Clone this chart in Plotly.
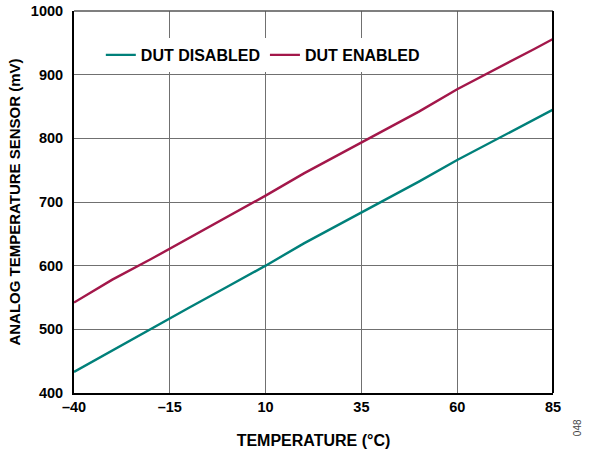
import plotly.graph_objects as go

temps = [-40, -30, -20, -10, 0, 10, 20, 30, 40, 50, 60, 70, 80, 85]
dut_disabled = [433, 467, 500, 534, 567, 600, 635, 667, 700, 732, 766, 798, 829, 845]
dut_enabled = [542, 578, 610, 643, 676, 710, 745, 777, 810, 842, 877, 908, 940, 956]

x_ticks = [-40, -15, 10, 35, 60, 85]
x_ticklabels = ["\u201340", "\u201315", "10", "35", "60", "85"]
y_ticks = [400, 500, 600, 700, 800, 900, 1000]

font_family = "Liberation Sans, Arial, sans-serif"

fig = go.Figure()
fig.add_trace(go.Scatter(x=temps, y=dut_disabled, mode="lines", name="DUT DISABLED",
                         line=dict(color="#00807a", width=2.4)))
fig.add_trace(go.Scatter(x=temps, y=dut_enabled, mode="lines", name="DUT ENABLED",
                         line=dict(color="#a3174a", width=2.4)))

fig.update_layout(
    width=591, height=453,
    margin=dict(l=74, r=38, t=11, b=60),
    paper_bgcolor="white", plot_bgcolor="white",
    font=dict(family=font_family, size=13, color="black"),
    showlegend=True,
    legend=dict(orientation="h", x=0.056, y=0.885, xanchor="left", yanchor="middle",
                bgcolor="white", font=dict(size=16, family=font_family, weight="bold"),
                itemwidth=30, tracegroupgap=0),
    xaxis=dict(range=[-40, 85], tickvals=x_ticks, ticktext=x_ticklabels,
               showgrid=True, gridcolor="#707070", gridwidth=1.3,
               showline=True, linecolor="black", linewidth=2, mirror=False,
               ticks="", zeroline=False, automargin=False,
               tickfont=dict(size=14.5, family=font_family, weight="bold"),
               title=dict(text="<b>TEMPERATURE (°C)</b>", font=dict(size=16), standoff=20)),
    yaxis=dict(range=[400, 1000], tickvals=y_ticks,
               showgrid=True, gridcolor="#707070", gridwidth=1.3,
               showline=True, linecolor="black", linewidth=2, mirror=False,
               ticks="", zeroline=False, automargin=False, ticklabelstandoff=6,
               tickfont=dict(size=14.5, family=font_family, weight="bold"),
               title=dict(text="<b>ANALOG TEMPERATURE SENSOR (mV)</b>", font=dict(size=15), standoff=7)),
)

# border on top/right
fig.add_shape(type="line", xref="paper", yref="paper", x0=0, x1=1, y0=1, y1=1,
              line=dict(color="#555555", width=1.5))
fig.add_shape(type="line", xref="paper", yref="paper", x0=1, x1=1, y0=0, y1=1,
              line=dict(color="black", width=2))

fig.add_annotation(text="048", xref="paper", yref="paper", x=1.067, y=-0.118,
                   showarrow=False, textangle=-90,
                   font=dict(size=10, color="#444444", family=font_family))

fig.write_html("out.html", config={"displayModeBar": False},
               post_script="document.body.style.margin='0';document.body.style.padding='0';")
